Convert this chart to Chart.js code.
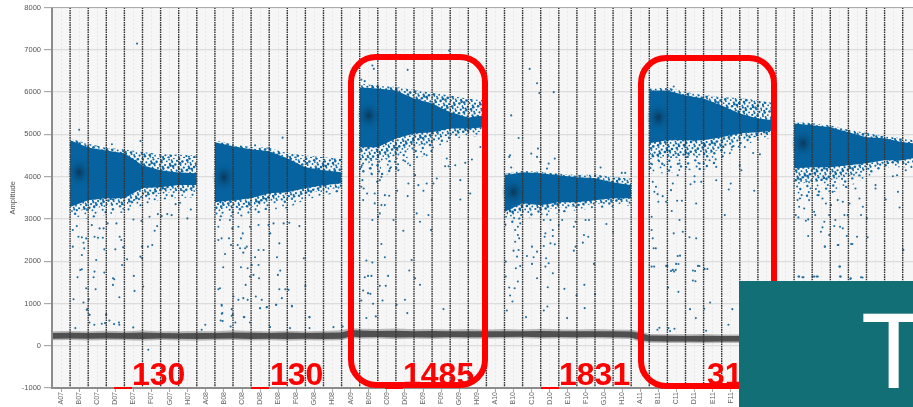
<!DOCTYPE html>
<html><head><meta charset="utf-8">
<style>
html,body{margin:0;padding:0;background:#fff;width:913px;height:407px;overflow:hidden;font-family:"Liberation Sans",Arial,sans-serif}
#wrap{position:relative;width:913px;height:407px;overflow:hidden}
canvas#c{position:absolute;left:0;top:0;filter:blur(.4px)}
.box{position:absolute;border:6px solid #f00;border-radius:28px;box-sizing:border-box}
.lab{position:absolute;color:#f00;font:bold 32px/32px "Liberation Sans",Arial,sans-serif;white-space:nowrap}
.dash{position:absolute;background:#f00;height:2px;top:387px}
#teal{position:absolute;left:739px;top:281px;width:174px;height:126px;background:#126f75;overflow:hidden}
#teal span{position:absolute;left:122px;top:17px;color:#fff;font:107px/107px "Liberation Sans",Arial,sans-serif}
</style></head><body>
<div id="wrap">
<canvas id="c" width="913" height="407"></canvas>
<div class="dash" style="left:114px;width:18px"></div>
<div class="dash" style="left:251px;width:18px"></div>
<div class="dash" style="left:385px;width:18px"></div>
<div class="dash" style="left:541px;width:18px"></div>
<div class="box" style="left:348px;top:54px;width:140px;height:334px"></div>
<div class="box" style="left:638px;top:55px;width:139px;height:334px"></div>
<div class="lab" style="left:132px;top:358px">130</div>
<div class="lab" style="left:270px;top:358px">130</div>
<div class="lab" style="left:403px;top:358px">1485</div>
<div class="lab" style="left:559px;top:358px">1831</div>
<div class="lab" style="left:707px;top:358px">31</div>
<div id="teal"><span>T</span></div>
</div>
<script src="https://cdn.jsdelivr.net/npm/chart.js@4/dist/chart.umd.min.js"></script>
<script>
const rows=["A","B","C","D","E","F","G","H"];
const plates=["07","08","09","10","11","12"];
const wells=[];plates.forEach(p=>rows.forEach(r=>wells.push(r+p)));

// Droplet cloud envelopes, read at the well edges of each plate
const edges07=[0.5,1.5,2.5,3.5,4.5,5.5,6.5,7.5];
const coreHi07=[4858,4690,4620,4550,4270,4150,4100,4080];
const coreLo07=[3280,3440,3490,3490,3730,3750,3800,3800];
const sparseHi07=[4900,4780,4680,4640,4580,4530,4520,4500];
const midLo07=[3160,3230,3300,3320,3520,3600,3660,3660];
const sparseLo07=[3020,3000,3100,3150,3300,3450,3500,3500];

const edges08=[8.5,9.5,10.5,11.5,12.5,13.5,14.5,15.5];
const coreHi08=[4810,4717,4646,4600,4434,4222,4150,4104];
const coreLo08=[3396,3443,3490,3608,3632,3726,3797,3844];
const sparseHi08=[4860,4760,4700,4680,4550,4500,4460,4420];
const midLo08=[3220,3250,3280,3410,3450,3590,3680,3750];
const sparseLo08=[3040,3040,3050,3200,3250,3450,3550,3650];

const edges09=[16.5,17.5,18.5,19.5,20.5,21.5,22.5,23.5];
const coreHi09=[6108,6085,6038,5850,5730,5520,5400,5450];
const coreLo09=[4693,4693,4900,5020,5050,5140,5140,5165];
const sparseHi09=[6200,6150,6120,6050,5980,5920,5840,5800];
const midLo09=[4390,4350,4500,4710,4800,5000,5040,5070];
const sparseLo09=[4080,4000,4100,4390,4550,4860,4930,4980];

const edges10=[24.5,25.5,26.5,27.5,28.5,29.5,30.5,31.5];
const coreHi10=[4030,4104,4080,4033,3986,3962,3868,3797];
const coreLo10=[3160,3372,3325,3396,3396,3443,3490,3490];
const sparseHi10=[4060,4140,4110,4070,4040,4050,3990,3950];
const midLo10=[2990,3200,3190,3270,3300,3350,3390,3410];
const sparseLo10=[2806,3019,3042,3136,3207,3254,3278,3325];

const edges11=[32.5,33.5,34.5,35.5,36.5,37.5,38.5,39.5];
const coreHi11=[6038,6038,5920,5850,5684,5495,5377,5330];
const coreLo11=[4787,4858,4858,4858,4929,5023,5047,5094];
const sparseHi11=[6080,6110,6000,5930,5880,5860,5800,5730];
const midLo11=[4440,4470,4500,4500,4660,4860,4950,5010];
const sparseLo11=[4080,4080,4150,4150,4386,4693,4858,4929];

const edges12=[40.5,41.5,42.5,43.5,44.5,45.5,46.5,47.1];
const coreHi12=[5259,5212,5165,5047,4929,4905,4811,4787];
const coreLo12=[4198,4222,4222,4269,4316,4386,4386,4434];
const sparseHi12=[5300,5260,5210,5110,5030,4960,4900,4860];
const midLo12=[3820,3870,3920,4010,4150,4300,4300,4330];
const sparseLo12=[3443,3514,3608,3750,3986,4222,4222,4222];

// Dense centre of the first filled well of each plate
const denseX=[1,9,17,25,33,41];
const denseY=[4100,3986,5450,3632,5400,4787];

// Negative droplet band (grey), read per well edge
const bandX=[-0.5,0.5,1.5,2.5,3.5,4.5,5.5,6.5,7.5,8.5,9.5,10.5,11.5,12.5,13.5,14.5,15.5,16,16.5,17.5,18.5,19.5,20.5,21.5,22.5,23.5,24.5,25.5,26.5,27.5,28.5,29.5,30.5,31.5,32,32.5,33.5,34.5,35.5,36.5,37.5];
const bandHi=[300,305,300,305,300,310,300,295,300,300,315,305,300,310,300,305,315,370,360,350,355,345,350,340,345,340,345,340,350,345,340,345,340,335,300,240,235,230,235,230,230];
const bandLo=[165,170,165,170,165,160,170,165,160,165,170,160,165,160,165,160,165,220,200,205,195,200,195,205,200,200,205,210,200,205,200,205,200,195,130,105,100,100,95,100,100];
const fringeHi=[345,350,340,355,345,360,345,340,350,345,365,350,345,355,345,350,365,420,400,395,405,390,395,385,395,385,395,385,400,390,385,395,385,375,340,275,270,270,275,265,265];
const fringeLo=[130,135,125,135,130,120,135,125,120,130,135,125,130,120,130,125,130,185,165,170,155,165,160,170,165,165,170,175,165,170,165,170,165,160,90,70,65,65,60,65,65];

// Individually read stray droplets [x in well units, amplitude]
const stray07=[[4.2,7146],[1,5110],[4.39,4843],[2.81,4764],[0.87,2830],[0.65,2736],[0.96,2578],[1.15,2563],[1.39,2539],[1.24,2437],[0.65,2343],[1.28,2303],[1.15,2146],[1.06,1792],[1.15,1808],[0.91,1620],[1.39,1360],[0.69,1100],[1.24,1022],[1.53,1100],[1.46,865],[1.57,731],[1.7,2853],[2.13,2775],[2.35,2775],[1.85,2578],[2.04,2555],[2.31,2555],[2.39,2280],[1.94,2028],[1.85,1753],[2.39,1730],[1.8,1620],[1.91,1336],[2.57,2893],[3.06,2893],[2.87,1596],[2.94,1572],[2.87,1439],[3.22,1148],[2.5,731],[3.24,2578],[3.33,2500],[3.43,2327],[3,2280],[3.65,2044],[3.37,1910],[4,2987],[4.44,2956],[4.48,2343],[4.8,2343],[5.04,2382],[4.39,2107],[4.48,2067],[4.02,1651],[4.06,1297],[4.54,1400],[5.31,2830],[5.17,2720],[4.89,3050],[5.35,3113],[5.56,3066],[5.87,3113],[6.11,3089],[6.33,3349],[6.57,3380],[7.17,3223],[6.98,3011],[0.79,417],[1.42,849],[1.57,731],[1.57,550],[1.84,495],[2.25,519],[2.43,535],[2.49,731],[2.67,598],[2.93,511],[3.2,550],[3.22,495],[3.99,433],[4.82,-94],[7.97,495],[7.77,378]];
const stray08=[[8.88,944],[8.88,755],[8.82,598],[8.93,582],[9.43,865],[9.49,731],[9.37,456],[9.63,550],[10.1,676],[10.44,550],[10.99,888],[11.36,912],[11.88,967],[11.55,440],[12.75,944],[12.65,417],[13.73,676],[13.73,417],[15.05,440],[15.56,456],[8.69,2815],[8.59,3129],[8.78,2972],[9.33,2972],[9.46,2775],[9.8,2815],[10.44,2815],[10.91,2854],[11.46,2854],[11.74,2893],[12.3,2893],[12.61,2909],[13.17,2830],[11.56,2657],[8.69,2500],[8.87,2540],[9.28,2540],[9.39,2382],[9.94,2540],[10.04,2657],[9.76,2382],[9.89,2304],[10.17,2304],[10.26,2343],[10.07,2201],[9.06,2170],[10.91,2264],[11.19,2264],[12.06,2422],[10.72,2091],[11.93,2091],[13.41,2068],[8.96,1856],[9.94,1856],[10.31,1832],[10.54,1910],[10.91,1910],[10.44,1636],[10.63,1675],[10.94,1596],[11.98,1675],[12.11,1777],[10.2,1439],[12.06,1337],[12.39,1337],[12.57,1321],[13.5,1415],[8.69,1337],[8.78,1361],[9.52,1164],[9.8,1085],[10.07,1125],[10.31,1085],[10.76,1164],[11.09,1085],[12.2,1125],[11.89,967],[12.76,928],[11,888],[11.37,912],[8.87,967],[8.91,771],[9.43,708],[10.13,677],[13.72,677],[12.24,4921],[10.72,4740]];
const stray09=[[17.2,6627],[17.28,6549],[19.15,6525],[21.44,6981],[16.59,6290],[16.78,6258],[16.59,4230],[16.65,3916],[16.59,3759],[16.72,3720],[16.91,3601],[16.69,3444],[17.46,3877],[17.61,3916],[17.7,3994],[17.33,3601],[17.89,3562],[18.13,3546],[17.33,3366],[17.7,3326],[17.89,3326],[17.61,3130],[17.52,3051],[17.2,2973],[18.37,2973],[18.57,3664],[19.19,3837],[19.15,3539],[19.74,3798],[19.65,3130],[19.83,2933],[20.3,3090],[20.48,3444],[20.2,3837],[20.57,3837],[20.02,3664],[20.76,3955],[22.06,3916],[22.06,3460],[22.61,3601],[21.31,4427],[21.22,4246],[21.41,4246],[21.78,4270],[22.33,4325],[22.7,4403],[23.17,4702],[23.39,4584],[18.91,2721],[20.44,2737],[17.7,2407],[17.89,2092],[19.37,2029],[16.87,2014],[17.2,1967],[19.24,1778],[19.56,1597],[18.07,1652],[16.78,1621],[16.96,1652],[17.15,1652],[17.61,1416],[17.94,1416],[19.83,1440],[16.69,1306],[16.96,1243],[17.09,1227],[16.59,1070],[17.24,992],[17.76,1070],[19,1086],[18.54,968],[19.13,772],[21.13,866],[16.87,654],[17.39,693],[16.69,4309],[17.06,4191],[17.15,4073],[18.17,4191],[18.63,4152],[18.91,4387],[19.28,4270],[19.56,4034],[20.2,4505]];
const stray10=[[25.89,6548],[26.3,6210],[26.43,5975],[27.22,5998],[24.87,5448],[25.28,4914],[24.81,4505],[24.76,4466],[25.98,4544],[26.35,4662],[26.3,4466],[26.48,4348],[27.28,4426],[26.94,4308],[26.85,4190],[24.87,4214],[29.81,4214],[30.98,4088],[31.17,4088],[25.24,2815],[25.37,2894],[25.09,2736],[25.24,2618],[25.31,2540],[25.09,2461],[26.67,2972],[27.04,2972],[26.76,2658],[27.17,2736],[27.17,2595],[26.72,2579],[27.5,2854],[27.69,2972],[28.43,2933],[28.33,2815],[28.98,2972],[29.17,2972],[28.89,2618],[29.13,2579],[28.83,2438],[28.43,2343],[28.33,2249],[30.13,2878],[30.5,2697],[27.04,2422],[27.28,2398],[26.67,2359],[26.02,2343],[26.3,2225],[25.74,2123],[26.11,2092],[25.28,2265],[25,2249],[25.19,2108],[26.8,2068],[26.94,1950],[26.76,1872],[26.02,1935],[25.13,1833],[25.37,1887],[24.57,1990],[24.57,1636],[27.17,1715],[29.44,1935],[26.3,1597],[25.24,1518],[28.91,1440],[24.76,1377],[25.06,1361],[26.89,1384],[27.81,1345],[29.5,1219],[28.48,1188],[24.81,1188],[24.94,1047],[26.87,929],[28.93,889],[26.67,834],[25.69,677],[27.96,653],[24.63,834]];
const stray11=[[33.85,6132],[32.69,3876],[32.87,3758],[32.78,3641],[32.96,3585],[33.24,3538],[33,3405],[33.43,3405],[33.7,3680],[34.07,4033],[33.8,3837],[34.04,3428],[34.3,3428],[35.09,3365],[33.74,3185],[34.17,2972],[32.63,3051],[32.63,2737],[33.85,2658],[34.35,2697],[34.72,2564],[35.09,2540],[32.69,2540],[32.74,2304],[34.07,2123],[33.98,1935],[32.63,1872],[33.43,1888],[33.8,1793],[33.7,1770],[34.91,1778],[35.19,1888],[35.56,1817],[34.91,1542],[36.67,3090],[36.89,3696],[37,3837],[38.3,3664],[37.59,4151],[37.5,4269],[38.24,4560],[38.61,4529],[37.07,4702],[37.78,4702],[36.2,3915],[35,4010],[34.78,3821],[35,3876],[35.37,3876],[33,4387],[33.33,4269],[32.59,4309],[34.17,4309],[34.63,4466],[35.28,4309],[35.83,4387],[36.2,4230],[32.86,2303],[34.2,2131],[32.77,1871],[33.5,1887],[34.11,1934],[33.87,1753],[33.96,1793],[35.03,1769],[35.27,1887],[35.71,1816],[35.05,1525],[33.54,1376],[34.11,1274],[35.86,1022],[34.75,865],[35.53,873],[37.09,865],[35.07,653],[36.87,496],[32.95,378],[33.06,425],[33.56,417],[33.65,346],[33.89,401],[35.64,354]];
const stray12=[[40.78,1635],[41.02,1620],[41.61,1635],[41.81,1635],[43.04,1871],[43.08,1635],[43.63,1596],[44.28,1612],[42.21,2343],[42.95,2382],[43.72,2406],[46.54,2264],[40.59,3090],[40.74,3035],[41.15,2957],[41.28,2988],[41.61,3169],[41.67,3090],[40.78,3287],[41.06,3247],[40.69,3444],[41.33,3444],[41.85,3562],[42.07,3483],[42.26,3365],[42.54,3326],[42.63,3640],[42.91,3444],[43.19,3405],[43.37,3758],[43.56,3365],[43.89,3719],[44.11,3483],[44.3,3287],[44.2,3090],[45,3798],[45,3719],[45.56,3460],[45.96,4010],[46.19,4033],[46.24,3640],[46.33,3271],[46.67,4151],[46.98,4230],[42.17,2933],[42.07,2800],[41.98,2697],[42.72,2831],[43.04,2815],[43.19,2776],[42.78,2972],[42.44,3090],[43.46,3090],[43.28,3090],[44.52,3012],[44.56,2564],[43.98,2579],[43.41,2595],[42.44,2619],[41.28,2595],[42.19,2344],[42.91,2383],[43.65,2406],[46.52,2265],[43,1872],[40.74,1636],[40.96,1620],[41.52,1636],[41.74,1636],[43.04,1636],[43.61,1581],[44.2,1620]];

// Style only: a fixed speckle texture (low-discrepancy dot tile) for the sparse fringes
function speckle(n,color,rMin,rMax){
  const W=127,H=79,t=document.createElement('canvas');t.width=W;t.height=H;
  const g=t.getContext('2d');g.fillStyle=color;
  for(let i=1;i<=n;i++){
    const x=(i*0.7548776662%1)*W,y=(i*0.5698402910%1)*H,r=rMin+(rMax-rMin)*(i%3)/2;
    g.beginPath();g.arc(x,y,r,0,7);g.fill();
  }
  return g.createPattern(t,'repeat');
}
function blob(w,h,color){
  const t=document.createElement('canvas');t.width=w;t.height=h;
  const g=t.getContext('2d');g.translate(w/2,h/2);g.scale(w/2,h/2);
  const rg=g.createRadialGradient(0,0,0,0,0,1);rg.addColorStop(0,color);rg.addColorStop(1,'rgba(6,99,159,0)');
  g.fillStyle=rg;g.beginPath();g.arc(0,0,1,0,7);g.fill();return t;
}
const spkDense=speckle(950,'#0d67a1',0.9,1.3);
const spkLight=speckle(330,'#1a6ea5',0.9,1.2);

const xy=(xs,ys)=>xs.map((x,i)=>({x,y:ys[i]}));
const pairs=a=>a.map(p=>({x:p[0],y:p[1]}));
function area(xs,hi,lo,color){
  return [
   {data:xy(xs,hi),fill:'+1',backgroundColor:color,borderWidth:0,pointRadius:0,tension:0},
   {data:xy(xs,lo),fill:false,borderWidth:0,pointRadius:0,tension:0}
  ];
}
const datasets=[];
[stray07,stray08,stray09,stray10,stray11,stray12].forEach(s=>datasets.push({
  data:pairs(s),showLine:false,pointRadius:1.05,pointBorderWidth:0,pointBackgroundColor:'#216e9f'}));
datasets.push({data:xy(denseX,denseY),showLine:false,pointRadius:12,pointBorderWidth:0,pointStyle:blob(24,30,'rgba(12,38,62,.72)')});
const plateSets=[
 [edges07,coreHi07,coreLo07,sparseHi07,midLo07,sparseLo07],
 [edges08,coreHi08,coreLo08,sparseHi08,midLo08,sparseLo08],
 [edges09,coreHi09,coreLo09,sparseHi09,midLo09,sparseLo09],
 [edges10,coreHi10,coreLo10,sparseHi10,midLo10,sparseLo10],
 [edges11,coreHi11,coreLo11,sparseHi11,midLo11,sparseLo11],
 [edges12,coreHi12,coreLo12,sparseHi12,midLo12,sparseLo12]];
plateSets.forEach(d=>datasets.push(...area(d[0],d[1],d[2],'#06639f')));
plateSets.forEach(d=>datasets.push(...area(d[0],d[3],d[4],spkDense)));
plateSets.forEach(d=>datasets.push(...area(d[0],d[4],d[5],spkLight)));
datasets.push(...area(bandX,bandHi,bandLo,'#505050'));
datasets.push(...area(bandX,fringeHi,fringeLo,'rgba(80,80,80,.38)'));

const frame={id:'frame',
 beforeDraw(c){const a=c.chartArea,g=c.ctx;g.save();g.fillStyle='#f6f6f6';g.fillRect(a.left,a.top,a.right-a.left,a.bottom-a.top);g.restore();},
 afterDatasetsDraw(c){const a=c.chartArea,g=c.ctx,x=c.scales.x;g.save();
   g.strokeStyle='#333';g.lineWidth=1.4;g.setLineDash([1.6,0.8]);
   wells.forEach((w,i)=>{const p=x.getPixelForValue(i+0.5);if(p<a.right){g.beginPath();g.moveTo(p,a.top);g.lineTo(p,a.bottom);g.stroke();}});
   g.setLineDash([]);g.strokeStyle='#8c8c8c';g.lineWidth=2;
   g.beginPath();g.moveTo(a.left,a.top);g.lineTo(a.left,a.bottom);g.lineTo(a.right,a.bottom);g.stroke();
   g.lineWidth=1;g.strokeStyle='#aaa';g.beginPath();g.moveTo(a.left,a.top);g.lineTo(a.right,a.top);g.stroke();
   g.restore();}
};

new Chart(document.getElementById('c'),{
 type:'line',
 data:{datasets},
 plugins:[frame],
 options:{
  responsive:false,animation:false,
  layout:{autoPadding:false,padding:{top:6,right:0,left:0,bottom:0}},
  plugins:{legend:{display:false},tooltip:{enabled:false},title:{display:false}},
  scales:{
   x:{type:'linear',min:-0.5,max:47.07,
      afterBuildTicks(s){s.ticks=wells.map((w,i)=>({value:i})).filter(t=>t.value<=46);},
      afterFit(s){s.height=19;s.paddingLeft=0;s.paddingRight=0;},
      grid:{color:'#dadada',lineWidth:1,tickLength:4,tickColor:'#aaa'},
      border:{display:false,dash:[1,3]},
      ticks:{autoSkip:false,minRotation:90,maxRotation:90,padding:0,color:'#666',
             font:{family:'"Liberation Sans"',size:7},
             callback:v=>wells[v]}},
   y:{min:-1000,max:8000,
      afterFit(s){s.width=52;},
      grid:{color:'#dcdcdc',lineWidth:1.2,tickLength:8,tickColor:'#aaa'},
      border:{display:false},
      title:{display:true,text:'Amplitude',color:'#555',font:{family:'"Liberation Sans"',size:7.5},padding:{top:8,bottom:0}},
      ticks:{stepSize:1000,padding:3,color:'#555',font:{family:'"Liberation Sans"',size:7.5},callback:v=>String(v)}}
  }
 }
});
</script>
</body></html>
